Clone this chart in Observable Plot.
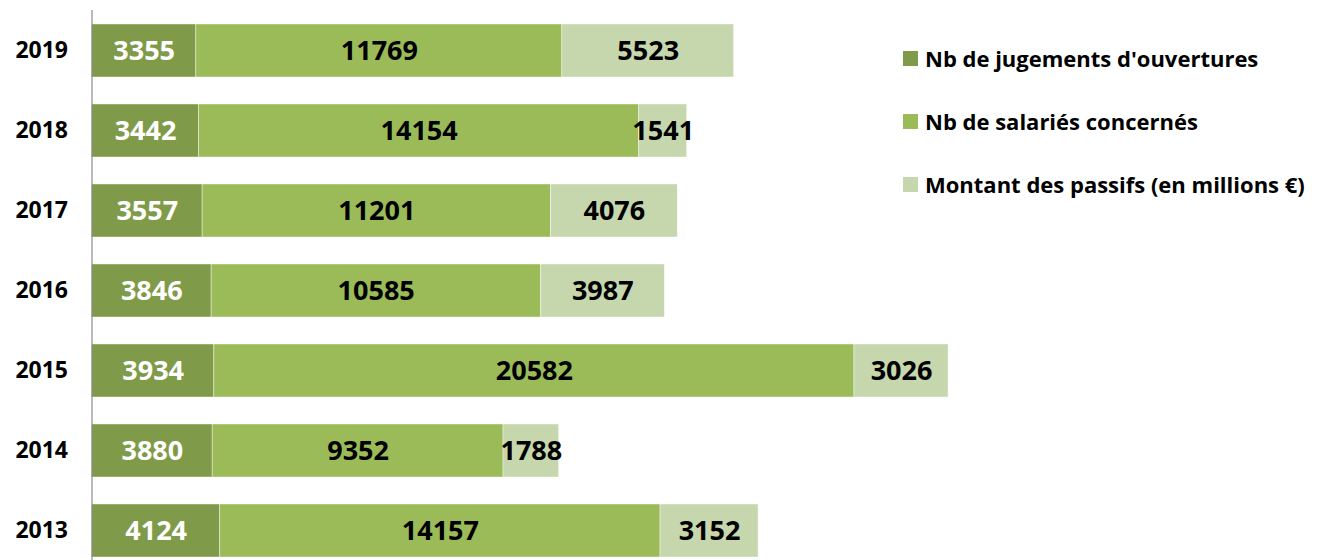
<!DOCTYPE html>
<html>
<head>
<meta charset="utf-8">
<script src="https://cdn.jsdelivr.net/npm/d3@7"></script>
<script src="https://cdn.jsdelivr.net/npm/@observablehq/plot@0.6"></script>
<style>
  html, body { margin: 0; padding: 0; background: #fff; }
  #wrap { position: relative; width: 1319px; height: 560px; font-family: "Open Sans", Lato, sans-serif; }
  #legend { position: absolute; left: 903px; top: 0; }
  .item { position: absolute; left: 0; white-space: nowrap; display: flex; align-items: center; font-weight: bold; font-size: 22px; color: #000; }
  .sw { width: 15px; height: 15px; margin-right: 7px; flex: none; }
</style>
</head>
<body>
<div id="wrap"><div id="legend"></div></div>
<script>
const years = ["2019", "2018", "2017", "2016", "2015", "2014", "2013"];
const seriesNames = ["Nb de jugements d'ouvertures", "Nb de salariés concernés", "Montant des passifs (en millions €)"];
const colors = ["#7F9B4A", "#9BBB59", "#C6D7AE"];
const jugements = [3355, 3442, 3557, 3846, 3934, 3880, 4124];
const salaries = [11769, 14154, 11201, 10585, 20582, 9352, 14157];
const passifs = [5523, 1541, 4076, 3987, 3026, 1788, 3152];

const seriesValues = [jugements, salaries, passifs];
const data = [];
years.forEach((y, i) => {
  seriesValues.forEach((vals, s) => {
    data.push({year: y, series: seriesNames[s], value: vals[i]});
  });
});

const chart = Plot.plot({
  width: 1319,
  height: 560,
  marginTop: 10,
  marginBottom: 0,
  marginLeft: 91,
  marginRight: 294,
  style: {fontFamily: "'Open Sans', Lato, sans-serif", background: "white"},
  x: {domain: [0, 30000], range: [91.5, 1024.5], axis: null},
  y: {domain: years, range: [10.5, 570.5], paddingInner: 0.34, paddingOuter: 0.17, axis: null},
  color: {domain: seriesNames, range: colors},
  marks: [
    Plot.barX(data, {x: "value", y: "year", fill: "series", stroke: "white", strokeWidth: 0.6, strokeOpacity: 0.7}),
    Plot.text(data, Plot.stackX({x: "value", y: "year", text: d => d.series === seriesNames[0] ? String(d.value) : "", fill: "white", fontSize: 27, fontWeight: "bold"})),
    Plot.text(data, Plot.stackX({x: "value", y: "year", text: d => d.series !== seriesNames[0] ? String(d.value) : "", fill: "black", fontSize: 27, fontWeight: "bold"})),
    Plot.ruleX([0], {stroke: "#8c8c8c", strokeWidth: 1.2}),
    Plot.text(years, {x: () => 0, y: d => d, text: d => d, textAnchor: "end", dx: -24, fontSize: 23, fontWeight: "bold", fill: "black"})
  ]
});
document.getElementById("wrap").prepend(chart);

const legend = document.getElementById("legend");
const legendTops = [58, 121, 184];
seriesNames.forEach((name, i) => {
  const it = document.createElement("div");
  it.className = "item";
  it.style.top = (legendTops[i] - 14) + "px";
  it.style.height = "28px";
  const sw = document.createElement("span");
  sw.className = "sw";
  sw.style.background = colors[i];
  const t = document.createElement("span");
  t.textContent = name;
  it.appendChild(sw);
  it.appendChild(t);
  legend.appendChild(it);
});
</script>
</body>
</html>
